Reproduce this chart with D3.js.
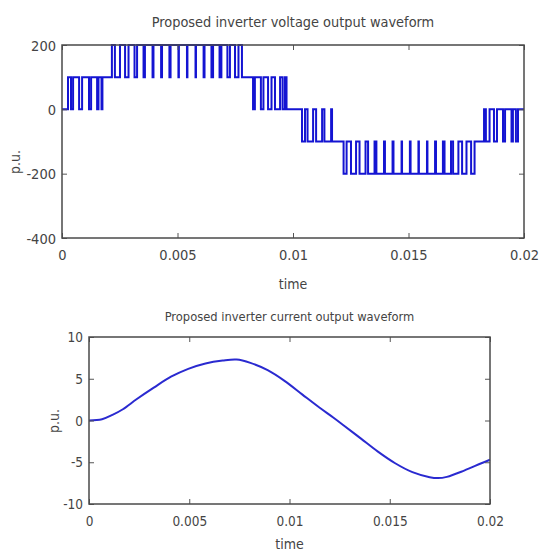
<!DOCTYPE html>
<html>
<head>
<meta charset="utf-8">
<script src="https://cdn.jsdelivr.net/npm/d3@7"></script>
<style>
  html, body { margin: 0; padding: 0; background: #ffffff; }
  svg { display: block; }
  text { font-family: "DejaVu Sans Condensed", "Liberation Sans Narrow", sans-serif; fill: #444; }
</style>
</head>
<body>
<svg id="chart" width="539" height="553"></svg>
<script>
// ---------- data ----------
// Voltage: switching instants (s) and the level (p.u.) held from that instant on
const voltageTimes = [
  0, 0.00026, 0.00039, 0.00048, 0.00074, 0.00087, 0.00117, 0.00126, 0.00152, 0.00158, 0.00171, 0.00175,
  0.00216, 0.00229, 0.00251, 0.00273, 0.00288, 0.00314, 0.00325, 0.00353, 0.00359, 0.00392,
  0.00396, 0.00429, 0.00433, 0.00465, 0.00470, 0.00504, 0.00506, 0.00541, 0.00543, 0.00578,
  0.00580, 0.00613, 0.00617, 0.00647, 0.00654, 0.00682, 0.00690, 0.00716, 0.00727, 0.00749,
  0.00764, 0.00779,
  0.00827, 0.00835, 0.00861, 0.00872, 0.00892, 0.00907, 0.00922, 0.00944, 0.00955, 0.00965, 0.00972,
  0.01039, 0.01052, 0.01063, 0.01087, 0.01100, 0.01126, 0.01136, 0.01165, 0.01169,
  0.01219, 0.01232, 0.01251, 0.01273, 0.01288, 0.01314, 0.01325, 0.01353, 0.01361, 0.01394,
  0.01398, 0.01431, 0.01435, 0.01470, 0.01472, 0.01506, 0.01509, 0.01543, 0.01545, 0.01580,
  0.01582, 0.01615, 0.01619, 0.01649, 0.01656, 0.01684, 0.01693, 0.01716, 0.01732, 0.01751,
  0.01771, 0.01786,
  0.01827, 0.01835, 0.01851, 0.01870, 0.01883, 0.01909, 0.01918, 0.01946, 0.01952, 0.01965, 0.01974,
  0.02
];
const voltageLevels = [
  0, 100, 0, 100, 0, 100, 0, 100, 0, 100, 0, 100,
  200, 100, 200, 100, 200, 100, 200, 100, 200, 100,
  200, 100, 200, 100, 200, 100, 200, 100, 200, 100,
  200, 100, 200, 100, 200, 100, 200, 100, 200, 100,
  200, 100,
  0, 100, 0, 100, 0, 100, 0, 100, 0, 100, 0,
  -100, 0, -100, 0, -100, 0, -100, 0, -100,
  -200, -100, -200, -100, -200, -100, -200, -100, -200, -100,
  -200, -100, -200, -100, -200, -100, -200, -100, -200, -100,
  -200, -100, -200, -100, -200, -100, -200, -100, -200, -100,
  -200, -100,
  0, -100, 0, -100, 0, -100, 0, -100, 0, -100, 0,
  0
];

// Current: sampled points (s, p.u.)
const currentTimes = [0, 0.00065, 0.00117, 0.00169, 0.00237, 0.00323, 0.00409, 0.00495, 0.00581, 0.00667,
  0.00736, 0.00805, 0.00891, 0.00977, 0.01063, 0.01149, 0.01218, 0.01269, 0.01355, 0.01441,
  0.01527, 0.01613, 0.01699, 0.01740, 0.01785, 0.01871, 0.01957, 0.02];
const currentValues = [0.0, 0.15, 0.67, 1.35, 2.54, 3.93, 5.24, 6.19, 6.83, 7.18,
  7.30, 6.90, 6.03, 4.72, 3.13, 1.55, 0.36, -0.56, -2.14, -3.73,
  -5.12, -6.19, -6.79, -6.90, -6.75, -6.00, -5.12, -4.70];

const xTicks = [0, 0.005, 0.01, 0.015, 0.02];
const xTickLabels = ["0", "0.005", "0.01", "0.015", "0.02"];
const vTicks = [200, 0, -200, -400];
const vTickLabels = ["200", "0", "-200", "-400"];
const iTicks = [10, 5, 0, -5, -10];
const iTickLabels = ["10", "5", "0", "-5", "-10"];

const titles = ["Proposed inverter voltage output waveform", "Proposed inverter current output waveform"];
const xLabel = "time";
const yLabel = "p.u.";

// ---------- drawing ----------
const svg = d3.select("#chart");

function panel(cfg) {
  const x = d3.scaleLinear().domain([0, 0.02]).range([cfg.left, cfg.right]);
  const y = d3.scaleLinear().domain(cfg.yDomain).range([cfg.bottom, cfg.top]);
  const g = svg.append("g");
  const tick = 5;

  // data line
  g.append("path")
    .datum(cfg.data)
    .attr("fill", "none")
    .attr("stroke", cfg.color)
    .attr("stroke-width", cfg.lineWidth)
    .attr("stroke-linejoin", "miter")
    .attr("d", d3.line().x(d => x(d[0])).y(d => y(d[1])).curve(cfg.curve));

  // axes with inward ticks (bottom / left / top / right)
  const axStyle = sel => {
    sel.select(".domain").remove();
    sel.selectAll("line").attr("stroke", "#555").attr("stroke-width", 1);
  };
  g.append("g").attr("transform", `translate(0,${cfg.bottom})`)
    .call(d3.axisBottom(x).tickValues(xTicks).tickSize(-tick).tickFormat((d, i) => xTickLabels[i]))
    .call(axStyle)
    .call(s => s.selectAll("text").attr("dy", null).attr("y", cfg.xLabelDy)
      .attr("dominant-baseline", "middle").style("font-size", cfg.tickFont + "px").attr("fill", "#444"));
  g.append("g").attr("transform", `translate(0,${cfg.top})`)
    .call(d3.axisTop(x).tickValues(xTicks).tickSize(-tick).tickFormat(""))
    .call(axStyle);
  g.append("g").attr("transform", `translate(${cfg.left},0)`)
    .call(d3.axisLeft(y).tickValues(cfg.yTicks).tickSize(-tick).tickFormat((d, i) => cfg.yTickLabels[i]))
    .call(axStyle)
    .call(s => s.selectAll("text").attr("x", -cfg.yLabelDx).attr("dy", "0.35em")
      .style("font-size", cfg.tickFont + "px").attr("fill", "#444"));
  g.append("g").attr("transform", `translate(${cfg.right},0)`)
    .call(d3.axisRight(y).tickValues(cfg.yTicks).tickSize(-tick).tickFormat(""))
    .call(axStyle);
  g.selectAll(".tick text").style("font-family", '"DejaVu Sans Condensed", "Liberation Sans Narrow", sans-serif');

  // box
  g.append("rect")
    .attr("x", cfg.left).attr("y", cfg.top)
    .attr("width", cfg.right - cfg.left).attr("height", cfg.bottom - cfg.top)
    .attr("fill", "none").attr("stroke", "#4a4a4a").attr("stroke-width", 1.5);

  // title and labels
  const cx = (cfg.left + cfg.right) / 2;
  g.append("text").attr("x", cx).attr("y", cfg.titleY)
    .attr("text-anchor", "middle").attr("dominant-baseline", "middle")
    .style("font-size", cfg.titleFont + "px").text(cfg.title);
  g.append("text").attr("x", cx).attr("y", cfg.xTitleY)
    .attr("text-anchor", "middle").attr("dominant-baseline", "middle")
    .style("font-size", cfg.labelFont + "px").text(xLabel);
  g.append("text")
    .attr("transform", `translate(${cfg.yTitleX},${cfg.yTitleY}) rotate(-90)`)
    .attr("text-anchor", "middle").attr("dominant-baseline", "middle")
    .style("font-size", cfg.labelFont + "px").text(yLabel);
}

panel({
  left: 62, right: 524, top: 45, bottom: 238,
  yDomain: [-400, 200], yTicks: vTicks, yTickLabels: vTickLabels,
  data: voltageTimes.map((t, i) => [t, voltageLevels[i]]),
  curve: d3.curveStepAfter, color: "#1414d2", lineWidth: 2,
  title: titles[0], titleY: 23, titleFont: 14.4,
  xTitleY: 285, yTitleX: 16, yTitleY: 162,
  tickFont: 14.5, labelFont: 14, xLabelDy: 18, yLabelDx: 6
});

panel({
  left: 89, right: 490, top: 337, bottom: 504,
  yDomain: [-10, 10], yTicks: iTicks, yTickLabels: iTickLabels,
  data: currentTimes.map((t, i) => [t, currentValues[i]]),
  curve: d3.curveCatmullRom, color: "#2a2ad0", lineWidth: 2,
  title: titles[1], titleY: 317, titleFont: 12.8,
  xTitleY: 545, yTitleX: 55, yTitleY: 421,
  tickFont: 13.5, labelFont: 14, xLabelDy: 18, yLabelDx: 6
});
</script>
</body>
</html>
